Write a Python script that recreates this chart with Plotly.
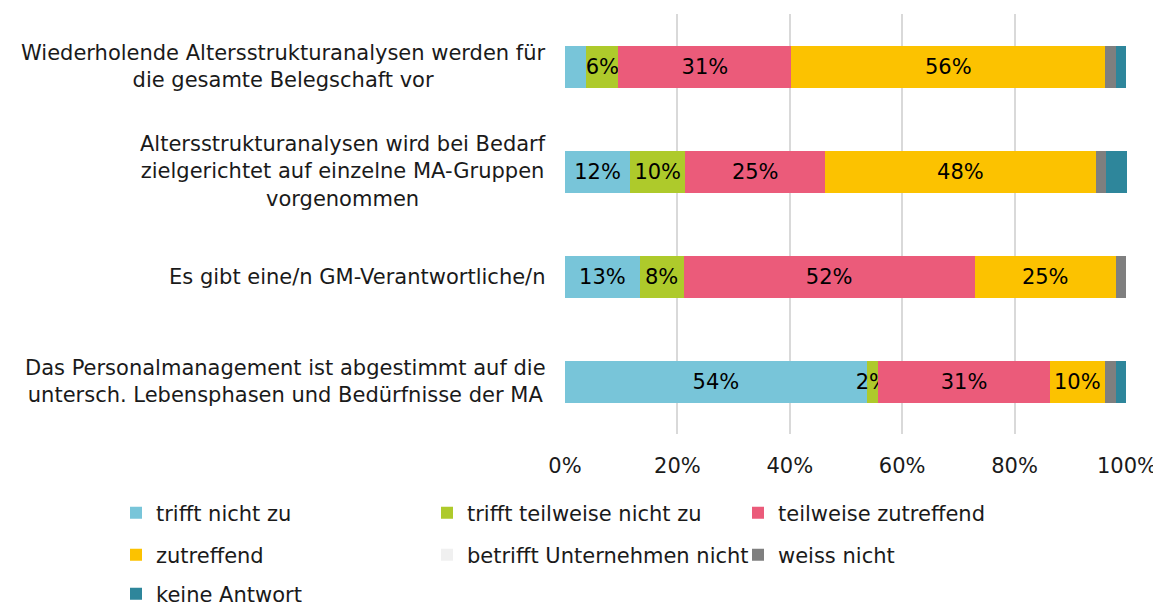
import plotly.graph_objects as go

categories = [
    "Wiederholende Altersstrukturanalysen werden für<br>die gesamte Belegschaft vor",
    "Altersstrukturanalysen wird bei Bedarf<br>zielgerichtet auf einzelne MA-Gruppen<br>vorgenommen",
    "Es gibt eine/n GM-Verantwortliche/n",
    "Das Personalmanagement ist abgestimmt auf die<br>untersch. Lebensphasen und Bedürfnisse der MA",
]
series_names = ["trifft nicht zu", "trifft teilweise nicht zu", "teilweise zutreffend",
                "zutreffend", "betrifft Unternehmen nicht", "weiss nicht", "keine Antwort"]
trifft_nicht_zu = [3.8, 11.6, 13.3, 53.7]
trifft_teilweise_nicht_zu = [5.7, 9.8, 7.8, 2.0]
teilweise_zutreffend = [30.8, 24.9, 51.8, 30.6]
zutreffend = [55.8, 48.1, 25.1, 9.7]
betrifft_nicht = [0, 0, 0, 0]
weiss_nicht = [1.95, 1.9, 1.8, 2.0]
keine_antwort = [1.85, 3.7, 0, 1.8]
# which labels are displayed in the reference
show_labels = [
    [False, True, True, True],
    [True, True, True, True],
    [True, True, True, True],
    [True, True, True, True],
    [False] * 4, [False] * 4, [False] * 4,
]
colors = ["#78C5D9", "#AECA2B", "#EB5B7A", "#FCC200", "#F0F0F0", "#7F7F7F", "#2E869B"]
values = [trifft_nicht_zu, trifft_teilweise_nicht_zu, teilweise_zutreffend, zutreffend,
          betrifft_nicht, weiss_nicht, keine_antwort]
legend_ids = ["legend", "legend", "legend", "legend2", "legend2", "legend2", "legend3"]

FONT = "DejaVu Sans"
FS = 21
TXT = "#1a1a1a"
ids = list(range(len(categories)))

fig = go.Figure()
for i, (name, vals, col) in enumerate(zip(series_names, values, colors)):
    txt = [f"{v:.0f}%" if s else "" for v, s in zip(vals, show_labels[i])]
    fig.add_trace(go.Bar(
        y=ids, x=vals, name=name, orientation="h",
        marker=dict(color=col, line=dict(width=0)),
        text=txt, textposition="inside", insidetextanchor="middle",
        textangle=0, constraintext="none",
        textfont=dict(family=FONT, size=FS, color="black"),
        hoverinfo="x+name", legend=legend_ids[i],
    ))

for idx, cat in enumerate(categories):
    fig.add_annotation(
        x=0, xref="paper", y=idx, yref="y", text=cat, showarrow=False,
        xanchor="right", yanchor="middle", align="center", xshift=-17,
        font=dict(family=FONT, size=FS, color=TXT),
    )

# the page body adds an 8px offset; figure-local pixel coordinates below
OFF = 8
W, H = 1161 - OFF, 606 - OFF
PL, PR, PT, PB = 565 - OFF, 1127 - OFF, 14 - OFF, 434 - OFF
def px_x(p):
    return (p - OFF - PL) / (PR - PL)
def px_y(p):
    return (PB - (p - OFF)) / (PB - PT)

leg_common = dict(orientation="h", xref="paper", yref="paper",
                  xanchor="left", yanchor="middle", x=px_x(116),
                  entrywidth=266, entrywidthmode="pixels", traceorder="normal",
                  font=dict(family=FONT, size=FS, color=TXT),
                  bgcolor="rgba(0,0,0,0)", itemclick=False, itemdoubleclick=False)

fig.update_layout(
    barmode="stack",
    width=W, height=H,
    margin=dict(l=PL, r=W - PR, t=PT, b=H - PB, autoexpand=False),
    paper_bgcolor="white", plot_bgcolor="white",
    bargap=0.6,
    font=dict(family=FONT, size=FS, color=TXT),
    xaxis=dict(range=[0, 100], tickvals=[0, 20, 40, 60, 80, 100],
               ticktext=["0%", "20%", "40%", "60%", "80%", "100%"],
               showgrid=True, gridcolor="#D9D9D9", gridwidth=2,
               zeroline=False, showline=False, ticklabelstandoff=17,
               tickfont=dict(family=FONT, size=FS, color=TXT), fixedrange=True),
    yaxis=dict(tickvals=ids, showticklabels=False, autorange="reversed",
               showgrid=False, zeroline=False, fixedrange=True),
    legend=dict(y=px_y(513), **leg_common),
    legend2=dict(y=px_y(555), **leg_common),
    legend3=dict(y=px_y(594), **leg_common),
    showlegend=True,
)

fig.write_html("out.html")
